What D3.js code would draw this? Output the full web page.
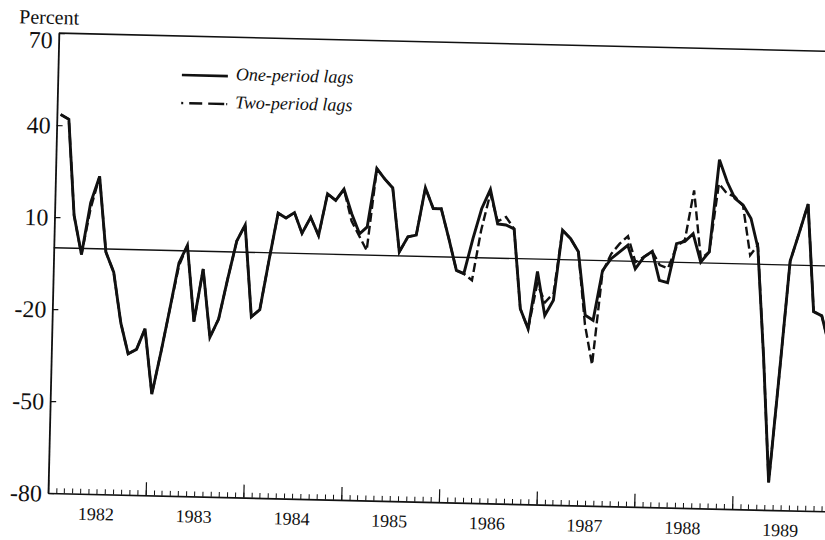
<!DOCTYPE html>
<html>
<head>
<meta charset="utf-8">
<script src="https://cdn.jsdelivr.net/npm/d3@7"></script>
<style>
  html, body { margin: 0; padding: 0; background: #fff; overflow: hidden; }
  svg { display: block; }
</style>
</head>
<body>
<div class="chart-wrapper"></div>
<script>
// monthly series, Jan 1982 .. Dec 1989 (percent)
const startYear = 1982;
const yearLabels = ['1982', '1983', '1984', '1985', '1986', '1987', '1988', '1989'];
const yTicks = [70, 40, 10, -20, -50, -80];

const oneLag = [
  43.5, 42, 10.7, -2, 15, 23.6, -1, -7.5, -24, -34, -32.5, -25.7,
  -47, -33, -19.5, -4, 1.8, -23, -5.8, -28, -22, -9, 3.6, 8.9,
  -21, -18.6, -3, 13, 11.5, 13.3, 6.6, 11.9, 6, 19.7, 17.6, 21.3,
  13.4, 6.9, 9.2, 28.3, 25, 22.1, 1.3, 6.3, 6.9, 22.4, 15.7, 15.7,
  6, -4.3, -5.3, 6.2, 16, 22.4, 11.2, 10.9, 9.7, -16.3, -22.8, -4,
  -18.3, -13.3, 9.6, 6.9, 2.7, -17.9, -19.5, -3.2, 0.7, 2.9, 5.2, -2.4,
  1.5, 3.4, -6, -6.7, 6.1, 6.9, 9.5, 0.3, 3.7, 33.8, 26.6, 21.3,
  19.2, 14.9, 5.5, -30, -71, -35, 1.3, 10.5, 20, -15, -16.3, -26
];

const twoLag = [
  43.5, 42, 10.7, -2, 13, 23.6, -1, -7.5, -24, -34, -32.5, -25.7,
  -47, -33, -19.5, -5, 1.8, -23, -5.8, -28, -22, -9, 3.6, 8.9,
  -21, -18.6, -3, 13, 11.5, 13.3, 6.6, 11.9, 6, 19.7, 17.6, 21.3,
  11, 6, 1.5, 28.3, 25, 22.1, 1.3, 6.3, 6.9, 22.4, 15.7, 15.7,
  6, -4.3, -5.3, -7.4, 9, 21, 12, 13.5, 9.7, -16.3, -22.8, -8,
  -14, -11, 9.6, 6.9, 2.7, -21, -34, -3.7, 2.3, 5.6, 8.2, -0.2,
  1.5, 3.4, -1, -2, 5, 7.5, 23.6, 1.4, 3.7, 26, 22.8, 21.9,
  19, 2.9, 6.2, -30, -71, -35, 1.3, 10.5, 20, -15, -16.3, -26
];

const W = 825, H = 540;
const margin = { left: 48, top: 33 };
const width = 782, height = 460;
const tilt = 1.35; // the scanned page sits slightly askew

// values are plotted mid-month
const toPoints = vals => vals.map((v, i) => ({ date: new Date(startYear, i, 15), value: v }));

const x = d3.scaleTime()
  .domain([new Date(startYear, 0, 1), new Date(startYear + yearLabels.length, 0, 1)])
  .range([0, width]);

const y = d3.scaleLinear().domain([-80, 70]).range([height, 0]);

const svg = d3.select('.chart-wrapper')
  .append('svg')
  .attr('width', W)
  .attr('height', H);

const g = svg.append('g')
  .attr('transform', 'rotate(' + tilt + ',' + margin.left + ',' + (margin.top + height) + ') translate(' + margin.left + ',' + margin.top + ')')
  .style('font-family', '"Liberation Serif", "Times New Roman", serif')
  .style('fill', '#111');

// top frame line and zero line
g.append('line')
  .attr('x1', 0).attr('x2', width + 20)
  .attr('y1', y(70)).attr('y2', y(70))
  .attr('stroke', '#111').attr('stroke-width', 1.6);

g.append('line')
  .attr('x1', 0).attr('x2', width + 20)
  .attr('y1', y(0)).attr('y2', y(0))
  .attr('stroke', '#111').attr('stroke-width', 1.3);

// y axis
const yAxis = g.append('g')
  .attr('font-family', '"Liberation Serif", serif')
  .call(d3.axisLeft(y).tickValues(yTicks).tickSize(-6).tickSizeOuter(0).tickPadding(6)
    .tickFormat(d => String(d)));
yAxis.select('.domain').attr('stroke', '#111').attr('stroke-width', 1.8);
yAxis.selectAll('.tick line').attr('stroke', '#111').attr('stroke-width', 1.2);
yAxis.selectAll('.tick text')
  .style('font-family', '"Liberation Serif", serif')
  .style('font-size', '24px')
  .attr('fill', '#111')
  .attr('dy', d => d === 70 ? '0.62em' : '0.34em');

// x axis: monthly minor ticks, year major ticks
const xMinor = g.append('g')
  .attr('transform', 'translate(0,' + height + ')')
  .call(d3.axisBottom(x).ticks(d3.timeMonth.every(1)).tickSize(-5).tickSizeOuter(0).tickFormat(''));
xMinor.select('.domain').attr('stroke', '#111').attr('stroke-width', 1.6);
xMinor.selectAll('.tick line').attr('stroke', '#111').attr('stroke-width', 1);

const xMajor = g.append('g')
  .attr('transform', 'translate(0,' + height + ')')
  .call(d3.axisBottom(x).ticks(d3.timeYear.every(1)).tickSize(-13).tickSizeOuter(0).tickFormat(''));
xMajor.select('.domain').remove();
xMajor.selectAll('.tick line').attr('stroke', '#111').attr('stroke-width', 1.2);

g.selectAll('.year-label')
  .data(yearLabels)
  .enter()
  .append('text')
  .attr('class', 'year-label')
  .attr('x', d => x(new Date(+d, 6, 1)))
  .attr('y', height + 26)
  .attr('text-anchor', 'middle')
  .style('font-size', '18px')
  .text(d => d);

g.append('text')
  .attr('x', -40)
  .attr('y', -9)
  .style('font-size', '20px')
  .text('Percent');

// series
const line = d3.line()
  .x(d => x(d.date))
  .y(d => y(d.value));

g.append('path')
  .datum(toPoints(twoLag))
  .attr('d', line)
  .attr('fill', 'none')
  .attr('stroke', '#111')
  .attr('stroke-width', 2.4)
  .attr('stroke-dasharray', '9,4');

g.append('path')
  .datum(toPoints(oneLag))
  .attr('d', line)
  .attr('fill', 'none')
  .attr('stroke', '#111')
  .attr('stroke-width', 2.9)
  .attr('stroke-linejoin', 'miter');

// legend
const legend = g.append('g').attr('transform', 'translate(124,39)');
legend.append('line')
  .attr('x1', 0).attr('x2', 46).attr('y1', 0).attr('y2', 0)
  .attr('stroke', '#111').attr('stroke-width', 2.6);
legend.append('line')
  .attr('x1', 0).attr('x2', 46).attr('y1', 28).attr('y2', 28)
  .attr('stroke', '#111').attr('stroke-width', 2.4)
  .attr('stroke-dasharray', '2,6,13,6,16');
legend.append('text')
  .attr('x', 54).attr('y', 4)
  .style('font-size', '18px').style('font-style', 'italic')
  .text('One-period lags');
legend.append('text')
  .attr('x', 54).attr('y', 32)
  .style('font-size', '18px').style('font-style', 'italic')
  .text('Two-period lags');
</script>
</body>
</html>
